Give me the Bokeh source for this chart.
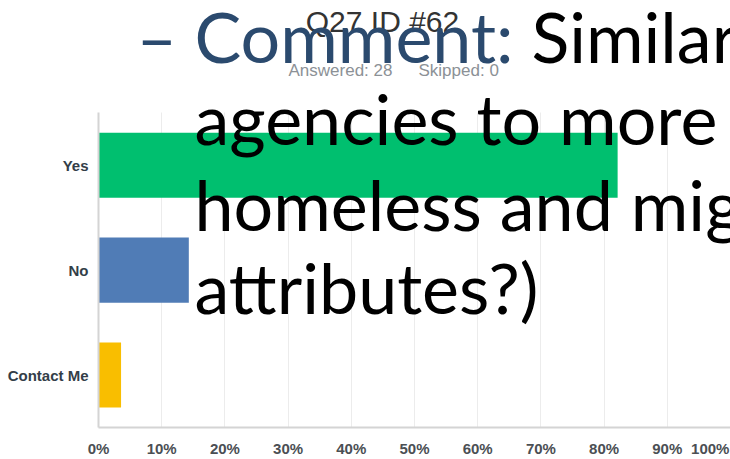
from bokeh.plotting import figure
from bokeh.models import Range1d, FixedTicker, Label, PrintfTickFormatter
from bokeh.embed import file_html
from bokeh.resources import INLINE

# ---- data ----
categories = ["Yes", "No", "Contact Me"]
percents = [82.14, 14.29, 3.57]
bar_colors = ["#00BF6F", "#507CB6", "#F9BE00"]
tick_values = [0, 10, 20, 30, 40, 50, 60, 70, 80, 90]
last_tick_label = "100%"
last_tick_pos = 96.8  # the source squeezes its "100%" label inside the crop
title_text = "Q27 ID #62"
answered_text = "Answered: 28"
skipped_text = "Skipped: 0"
dash_text = "\u2013"
comment_text = "Comment:"
similar_text = "Similar"
slide_lines = ["agencies to more", "homeless and mig", "attributes?)"]

W, H = 730, 459
LEFT, BOTTOM = 98, 29
FRAME_BOTTOM = H - BOTTOM
n = len(categories)
ypos = [n - i - 0.5 for i in range(n)]          # band centres, top to bottom
y_end = n * FRAME_BOTTOM / (FRAME_BOTTOM - 113)  # leave room above the bands for the header

p = figure(width=W, height=H, output_backend="svg", toolbar_location=None,
           x_range=Range1d(0, 100), y_range=Range1d(0, y_end),
           min_border_left=LEFT, min_border_right=0,
           min_border_top=0, min_border_bottom=BOTTOM)
p.outline_line_color = None
p.background_fill_color = "white"

p.hbar(y=ypos, right=percents, left=0, height=0.62, color=bar_colors, line_color=None)

# axes
p.xaxis.ticker = FixedTicker(ticks=tick_values + [last_tick_pos])
p.xaxis.formatter = PrintfTickFormatter(format="%d%%")
p.xaxis.major_label_overrides = {last_tick_pos: last_tick_label}
p.xaxis.major_tick_line_color = None
p.xaxis.minor_tick_line_color = None
p.xaxis.major_tick_out = 0
p.xaxis.major_tick_in = 0
p.xaxis.axis_line_color = "#d4d4d4"
p.xaxis.axis_line_width = 2
p.xaxis.major_label_text_font = "Liberation Sans"
p.xaxis.major_label_text_font_style = "bold"
p.xaxis.major_label_text_font_size = "15px"
p.xaxis.major_label_text_color = "#4b4f54"
p.xaxis.major_label_standoff = 12

p.yaxis.ticker = FixedTicker(ticks=ypos)
p.yaxis.major_label_overrides = {y: c for y, c in zip(ypos, categories)}
p.yaxis.bounds = (0, n)
p.yaxis.major_tick_line_color = None
p.yaxis.minor_tick_line_color = None
p.yaxis.major_tick_out = 0
p.yaxis.major_tick_in = 0
p.yaxis.axis_line_color = "#d4d4d4"
p.yaxis.axis_line_width = 2
p.yaxis.major_label_text_font = "Liberation Sans"
p.yaxis.major_label_text_font_style = "bold"
p.yaxis.major_label_text_font_size = "15px"
p.yaxis.major_label_text_color = "#333e48"
p.yaxis.major_label_standoff = 10

p.xgrid.ticker = FixedTicker(ticks=tick_values[1:])
p.xgrid.grid_line_color = "#ececec"
if "cross_bounds" in type(p.xgrid[0]).properties():
    p.xgrid.cross_bounds = (0, n)
p.ygrid.grid_line_color = None


def add_text(text, fx, fy, size, color, font, align="left"):
    # fx, fy: wanted canvas position of the text's start / baseline (px from left / top)
    # -> frame-relative screen units (with an empirical baseline correction)
    p.add_layout(Label(x=fx - LEFT, y=FRAME_BOTTOM - fy + 0.37 * size, x_units="screen", y_units="screen",
                       text=text, text_font=font, text_font_size=f"{size}px", text_color=color,
                       text_align=align, text_baseline="alphabetic"))


add_text(title_text, 382, 35, 30, "#333333", "Liberation Sans", align="center")
add_text(answered_text, 288, 79, 17, "#8c9196", "Liberation Sans")
add_text(skipped_text, 418, 79, 17, "#8c9196", "Liberation Sans")

BIG = 70
add_text(dash_text, 136, 64, BIG, "#2b4a6e", "Lato")
add_text(comment_text, 194, 64, BIG, "#2b4a6e", "Lato")
add_text(similar_text, 531, 64, BIG, "#000000", "Lato")
for line, base in zip(slide_lines, [146, 232, 315]):
    add_text(line, 194, base, BIG, "#000000", "Lato")

open("out.html", "w").write(file_html(p, INLINE))
